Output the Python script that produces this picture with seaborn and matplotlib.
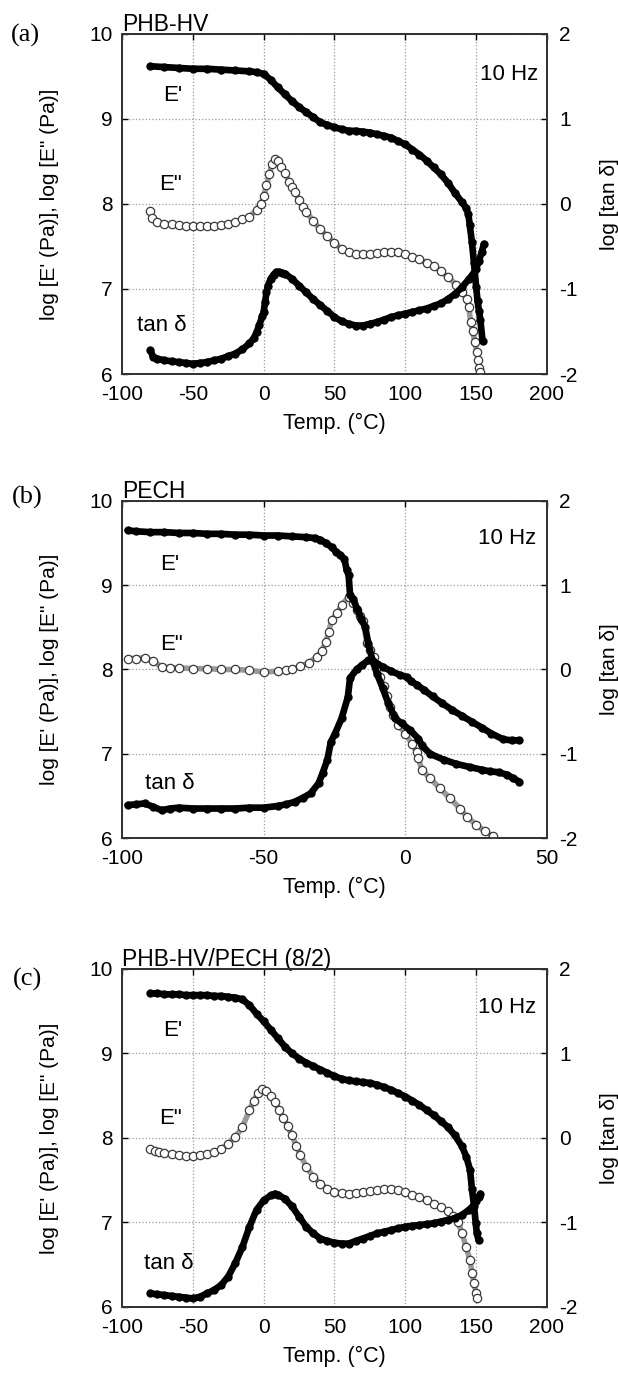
import matplotlib
matplotlib.use("Agg")
import matplotlib.pyplot as plt
import seaborn as sns

# ---- panel (a) PHB-HV ----
a_T_e1 = [-80, -70, -60, -50, -40, -30, -20, -10, -5, 0, 5, 10, 15, 20, 25, 30, 35, 40, 45, 50,
          55, 60, 65, 70, 75, 80, 85, 90, 95, 100, 105, 110, 115, 120, 125, 130, 135, 140, 143,
          144.5, 145.5, 147, 148.5, 150, 151, 152, 153, 154.5]
a_e1 = [9.62, 9.61, 9.60, 9.59, 9.59, 9.58, 9.57, 9.56, 9.55, 9.53, 9.46, 9.37, 9.29, 9.21, 9.14,
        9.08, 9.02, 8.96, 8.93, 8.90, 8.88, 8.86, 8.86, 8.85, 8.84, 8.82, 8.80, 8.78, 8.74, 8.70,
        8.64, 8.58, 8.51, 8.43, 8.35, 8.25, 8.13, 8.02, 7.95, 7.88, 7.75, 7.55, 7.30, 7.02, 6.86,
        6.74, 6.63, 6.39]
a_T_e2 = [-80, -79, -75, -70, -65, -60, -55, -50, -45, -40, -35, -30, -25, -20, -15, -10, -5, -2,
          0, 2, 4, 6, 8, 10, 12, 15, 18, 20, 22, 25, 28, 30, 35, 40, 45, 50, 55, 60, 65, 70, 75,
          80, 85, 90, 95, 100, 105, 110, 115, 120, 125, 130, 136, 140, 143.3, 144.7, 146.2, 147.6,
          149, 150.4, 151.4, 152.2, 152.8]
a_e2 = [7.92, 7.84, 7.79, 7.77, 7.76, 7.75, 7.74, 7.74, 7.74, 7.74, 7.74, 7.75, 7.77, 7.79, 7.82,
        7.85, 7.93, 8.00, 8.09, 8.22, 8.35, 8.47, 8.53, 8.50, 8.44, 8.36, 8.26, 8.20, 8.14, 8.05,
        7.96, 7.91, 7.80, 7.70, 7.62, 7.54, 7.47, 7.43, 7.41, 7.41, 7.41, 7.42, 7.44, 7.44, 7.43,
        7.41, 7.38, 7.35, 7.31, 7.27, 7.21, 7.14, 7.05, 6.97, 6.88, 6.79, 6.61, 6.50, 6.38, 6.26,
        6.17, 6.07, 6.02]
a_T_tan = [-80, -78, -75, -70, -65, -60, -55, -50, -45, -40, -35, -30, -25, -20, -15, -10, -7, -5,
           -3, -1, 0, 1, 2, 3, 5, 7, 9, 11, 13, 15, 20, 25, 30, 35, 40, 45, 50, 55, 60, 65, 70,
           75, 80, 85, 90, 95, 100, 105, 110, 115, 120, 125, 130, 135, 140, 145, 148, 150, 152,
           154, 155.5]
a_tan = [-1.72, -1.80, -1.82, -1.84, -1.85, -1.86, -1.87, -1.88, -1.87, -1.86, -1.84, -1.82, -1.79,
         -1.76, -1.71, -1.64, -1.58, -1.51, -1.42, -1.32, -1.27, -1.15, -1.04, -0.96, -0.88, -0.83,
         -0.80, -0.80, -0.81, -0.82, -0.88, -0.96, -1.04, -1.12, -1.19, -1.26, -1.33, -1.38, -1.41,
         -1.43, -1.43, -1.41, -1.39, -1.36, -1.33, -1.31, -1.29, -1.27, -1.25, -1.23, -1.20, -1.17,
         -1.12, -1.06, -0.98, -0.88, -0.82, -0.76, -0.67, -0.56, -0.47]

# ---- panel (b) PECH ----
b_T_e1 = [-98, -95, -90, -85, -80, -75, -70, -65, -60, -55, -50, -45, -40, -35, -32, -30, -28, -26,
          -24.5, -23, -21.5, -20.7, -20, -19.5, -18.5, -17, -15.5, -14.2, -13, -11.5, -10, -8, -6,
          -3.6, -1.3, 1.7, 4.6, 5.8, 8.7, 13.5, 18, 23, 27, 30, 33, 36, 38, 40.2]
b_e1 = [9.65, 9.64, 9.63, 9.63, 9.62, 9.62, 9.61, 9.61, 9.60, 9.60, 9.59, 9.59, 9.58, 9.57, 9.56,
        9.54, 9.50, 9.45, 9.40, 9.36, 9.31, 9.18, 9.12, 8.88, 8.84, 8.72, 8.60, 8.51, 8.30, 8.10,
        7.95, 7.78, 7.60, 7.42, 7.36, 7.28, 7.18, 7.10, 7.00, 6.93, 6.88, 6.84, 6.81, 6.79, 6.78,
        6.75, 6.71, 6.67]
b_T_e2 = [-98, -95, -92, -89, -86, -83, -80, -75, -70, -65, -60, -55, -50, -45, -42, -40, -37, -34,
          -31.3, -29.5, -28, -27.1, -26, -24, -22.5, -19.9, -18.4, -17.2, -16, -14.8, -13.6, -12.4,
          -11.2, -10.1, -8.9, -7.7, -6.6, -5.4, -4.2, -2.5, 0, 2.3, 4, 4.6, 5.8, 8.7, 12.2, 15.8,
          19.3, 21.7, 25, 28, 31]
b_e2 = [8.13, 8.13, 8.14, 8.10, 8.03, 8.02, 8.02, 8.01, 8.01, 8.00, 8.00, 7.99, 7.97, 7.98, 7.99,
        8.00, 8.04, 8.08, 8.15, 8.22, 8.33, 8.44, 8.59, 8.67, 8.77, 8.86, 8.79, 8.71, 8.63, 8.57,
        8.31, 8.23, 8.15, 8.03, 7.91, 7.80, 7.68, 7.56, 7.46, 7.34, 7.24, 7.12, 7.02, 6.95, 6.81,
        6.71, 6.59, 6.47, 6.35, 6.25, 6.16, 6.08, 6.02]
b_T_tan = [-98, -95, -92, -89, -86, -83, -80, -75, -70, -65, -60, -55, -50, -45, -42, -39, -36,
           -33.4, -30.6, -29.2, -27.5, -26.3, -24.8, -22.5, -20.3, -19.5, -17.2, -15.4, -13, -10,
           -7.8, -5, -1.9, 0.5, 2, 4, 6.5, 9.6, 13, 16.5, 20, 23.5, 27, 30.4, 34.6, 37.5, 40.2]
b_tan = [-1.61, -1.60, -1.59, -1.63, -1.67, -1.65, -1.64, -1.65, -1.65, -1.65, -1.65, -1.64, -1.64,
         -1.62, -1.60, -1.57, -1.52, -1.47, -1.35, -1.23, -1.07, -0.86, -0.76, -0.58, -0.33, -0.10,
         0.00, 0.05, 0.11, 0.07, 0.03, -0.02, -0.065, -0.09, -0.14, -0.18, -0.24, -0.32, -0.40,
         -0.48, -0.55, -0.62, -0.69, -0.76, -0.83, -0.84, -0.84]

# ---- panel (c) PHB-HV/PECH (8/2) ----
c_T_e1 = [-80, -75, -70, -65, -60, -55, -50, -45, -40, -35, -30, -25, -20, -15, -10, -5, 0, 5, 10,
          15, 20, 25, 30, 35, 40, 45, 50, 55, 60, 65, 70, 75, 80, 85, 90, 95, 100, 105, 110, 115,
          120, 125, 130, 135, 140, 143, 145.7, 147, 148.5, 149.7, 150.5, 151.7]
c_e1 = [9.71, 9.71, 9.70, 9.70, 9.70, 9.69, 9.69, 9.69, 9.69, 9.68, 9.68, 9.67, 9.66, 9.64, 9.57,
        9.47, 9.38, 9.28, 9.18, 9.08, 9.00, 8.94, 8.89, 8.85, 8.81, 8.77, 8.73, 8.70, 8.68, 8.67,
        8.66, 8.65, 8.63, 8.60, 8.57, 8.53, 8.49, 8.44, 8.39, 8.33, 8.27, 8.20, 8.13, 8.03, 7.90,
        7.78, 7.62, 7.40, 7.20, 6.99, 6.87, 6.79]
c_T_e2 = [-80, -77, -74, -70, -65, -60, -55, -50, -45, -40, -35, -30, -25, -20, -15, -10, -7, -4,
          -1, 2, 5, 8, 11, 14, 17, 20, 23, 26, 30, 35, 40, 45, 50, 55, 60, 65, 70, 75, 80, 85, 90,
          95, 100, 105, 110, 115, 120, 125, 130, 134, 137.3, 140, 142.9, 145.7, 147.1, 148.5,
          149.9, 150.7]
c_e2 = [7.87, 7.85, 7.83, 7.82, 7.81, 7.80, 7.79, 7.79, 7.80, 7.81, 7.83, 7.87, 7.93, 8.01, 8.13,
        8.33, 8.44, 8.53, 8.58, 8.56, 8.50, 8.42, 8.33, 8.24, 8.14, 8.03, 7.91, 7.80, 7.66, 7.54,
        7.46, 7.40, 7.36, 7.35, 7.34, 7.35, 7.36, 7.37, 7.38, 7.39, 7.39, 7.38, 7.36, 7.33, 7.30,
        7.26, 7.22, 7.18, 7.13, 7.08, 7.00, 6.87, 6.71, 6.55, 6.40, 6.28, 6.16, 6.10]
c_T_tan = [-80, -75, -70, -65, -60, -55, -50, -45, -40, -35, -30, -25, -20, -15, -10, -5, 0, 5, 8,
           10, 15, 20, 25, 30, 35, 40, 45, 50, 55, 60, 65, 70, 75, 80, 85, 90, 95, 100, 105, 110,
           115, 120, 125, 130, 135, 140, 145, 148, 150, 152, 153]
c_tan = [-1.84, -1.85, -1.86, -1.87, -1.88, -1.89, -1.90, -1.88, -1.84, -1.80, -1.74, -1.64, -1.48,
         -1.29, -1.05, -0.85, -0.74, -0.68, -0.66, -0.67, -0.72, -0.81, -0.93, -1.05, -1.13, -1.19,
         -1.22, -1.24, -1.25, -1.25, -1.22, -1.19, -1.16, -1.13, -1.11, -1.09, -1.07, -1.05, -1.04,
         -1.03, -1.02, -1.01, -0.99, -0.97, -0.95, -0.91, -0.85, -0.80, -0.75, -0.70, -0.66]

sns.set_style("white")
plt.rcParams['font.family'] = ['Liberation Sans', 'DejaVu Sans']
plt.rcParams['axes.unicode_minus'] = False
plt.rcParams['text.color'] = 'black'
plt.rcParams['axes.labelcolor'] = 'black'
plt.rcParams['xtick.color'] = 'black'
plt.rcParams['ytick.color'] = 'black'

fig = plt.figure(figsize=(6.18, 13.74), dpi=100)

panels = [
    dict(bottom=0.7278, height=0.2475, title="PHB-HV", letter="(a)", lpos=(0.0405, 0.9745),
         xlim=(-100, 200), xticks=[-100, -50, 0, 50, 100, 150, 200],
         e1=(a_T_e1, a_e1), e2=(a_T_e2, a_e2), tan=(a_T_tan, a_tan),
         t1=(-64, 9.28), t2=(-66, 8.23), t3=(-72, 6.57), hz=(173, 9.52)),
    dict(bottom=0.3901, height=0.2453, title="PECH", letter="(b)", lpos=(0.0437, 0.6376),
         xlim=(-100, 50), xticks=[-100, -50, 0, 50],
         e1=(b_T_e1, b_e1), e2=(b_T_e2, b_e2), tan=(b_T_tan, b_tan),
         t1=(-83, 9.24), t2=(-82.5, 8.30), t3=(-83, 6.65), hz=(36, 9.55)),
    dict(bottom=0.0488, height=0.246, title="PHB-HV/PECH (8/2)", letter="(c)", lpos=(0.0453, 0.2868),
         xlim=(-100, 200), xticks=[-100, -50, 0, 50, 100, 150, 200],
         e1=(c_T_e1, c_e1), e2=(c_T_e2, c_e2), tan=(c_T_tan, c_tan),
         t1=(-64.5, 9.27), t2=(-66, 8.23), t3=(-67, 6.52), hz=(172, 9.54)),
]

for p in panels:
    ax = fig.add_axes([0.1974, p['bottom'], 0.6877, p['height']])
    ax2 = ax.twinx()

    # E'' open circles
    sns.lineplot(x=p['e2'][0], y=p['e2'][1], ax=ax, color='#9a9a9a', lw=4, sort=False,
                 estimator=None, marker='o', markersize=6, markerfacecolor='white',
                 markeredgecolor='#3a3a3a', markeredgewidth=0.9, zorder=3)
    # E' filled
    sns.lineplot(x=p['e1'][0], y=p['e1'][1], ax=ax, color='black', lw=4.8, sort=False,
                 estimator=None, marker='o', markersize=6, markeredgewidth=0,
                 markerfacecolor='black', zorder=4)
    # tan delta filled (right axis)
    sns.lineplot(x=p['tan'][0], y=p['tan'][1], ax=ax2, color='black', lw=4.8, sort=False,
                 estimator=None, marker='o', markersize=6, markeredgewidth=0,
                 markerfacecolor='black', zorder=4)

    ax.set_xlim(*p['xlim'])
    ax.set_ylim(6, 10)
    ax2.set_ylim(-2, 2)
    ax.set_xticks(p['xticks'])
    ax.set_yticks([6, 7, 8, 9, 10])
    ax2.set_yticks([-2, -1, 0, 1, 2])
    ax.grid(True, ls=':', color='#9a9a9a', lw=0.9)
    ax.set_axisbelow(True)

    ax.tick_params(axis='both', direction='in', length=4, width=1, labelsize=15,
                   top=True, right=False, pad=7)
    ax.tick_params(axis='x', pad=8)
    ax2.tick_params(axis='y', direction='in', length=4, width=1, labelsize=15, pad=9)
    for a in (ax, ax2):
        for s in a.spines.values():
            s.set_linewidth(1.3)
            s.set_color('#333333')

    ax.set_xlabel("Temp. (°C)", fontsize=15.5)
    ax.xaxis.set_label_coords(0.5, -0.115)
    ax.set_ylabel("log [E' (Pa)], log [E\" (Pa)]", fontsize=15)
    ax.yaxis.set_label_coords(-0.148, 0.5)
    ax2.set_ylabel("log [tan δ]", fontsize=15)
    ax2.yaxis.set_label_coords(1.125, 0.5)

    ax.text(0.0, 1.008, p['title'], transform=ax.transAxes, ha='left', va='baseline', fontsize=16.5)
    fig.text(p['lpos'][0], p['lpos'][1], p['letter'], ha='center', va='center', fontsize=19,
             family=['Liberation Serif', 'DejaVu Serif'])

    ax.text(p['t1'][0], p['t1'][1], "E'", ha='center', va='center', fontsize=16)
    ax.text(p['t2'][0], p['t2'][1], 'E"', ha='center', va='center', fontsize=16)
    ax.text(p['t3'][0], p['t3'][1], "tan δ", ha='center', va='center', fontsize=16)
    ax.text(p['hz'][0], p['hz'][1], "10 Hz", ha='center', va='center', fontsize=16)

fig.savefig("out.png", dpi=100)
